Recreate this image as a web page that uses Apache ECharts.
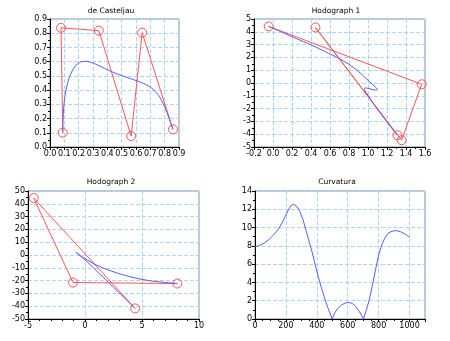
<!DOCTYPE html>
<html>
<head>
<meta charset="utf-8">
<script src="https://cdn.jsdelivr.net/npm/echarts@6/dist/echarts.min.js"></script>
<style>
  html, body { margin: 0; padding: 0; background: #fff; }
  #chart { width: 450px; height: 341px; }
</style>
</head>
<body>
<div id="chart"></div>
<script>
// Bezier control polygon and curve (de Casteljau)
const ctrlX = [0.089, 0.077, 0.341, 0.566, 0.643, 0.858];
const ctrlY = [0.101, 0.838, 0.818, 0.077, 0.804, 0.124];
const curveX = [0.089, 0.091, 0.096, 0.105, 0.118, 0.135, 0.160, 0.190, 0.222, 0.257, 0.295, 0.335, 0.380, 0.425, 0.470, 0.515, 0.560, 0.608, 0.650, 0.690, 0.725, 0.760, 0.790, 0.815, 0.838, 0.858];
const curveY = [0.101, 0.190, 0.280, 0.360, 0.430, 0.490, 0.545, 0.583, 0.600, 0.602, 0.592, 0.575, 0.553, 0.532, 0.513, 0.497, 0.481, 0.465, 0.448, 0.428, 0.400, 0.360, 0.305, 0.245, 0.180, 0.124];

// First hodograph: control polygon and curve
const hod1CtrlX = [-0.045, 1.565, 1.354, 0.447, 1.310];
const hod1CtrlY = [4.42, -0.10, -4.47, 4.34, -4.08];
const hod1CurveX = [-0.045, 0.100, 0.250, 0.400, 0.550, 0.690, 0.800, 0.900, 0.980, 1.050, 1.090, 1.100, 1.080, 1.040, 1.000, 0.970, 0.962, 0.968, 0.990, 1.030, 1.090, 1.160, 1.230, 1.310];
const hod1CurveY = [4.42, 3.95, 3.45, 2.98, 2.45, 1.94, 1.45, 0.90, 0.35, -0.12, -0.40, -0.52, -0.55, -0.50, -0.42, -0.38, -0.45, -0.60, -0.85, -1.30, -1.95, -2.65, -3.35, -4.08];

// Second hodograph: control polygon and curve
const hod2CtrlX = [8.10, -1.05, -4.50, 4.40];
const hod2CtrlY = [-22.3, -21.5, 44.5, -41.7];
const hod2CurveX = [8.10, 7.00, 5.60, 4.40, 3.30, 2.30, 1.50, 0.80, 0.25, -0.25, -0.60, -0.80, -0.82, -0.70, -0.45, -0.05, 0.45, 1.00, 1.60, 2.20, 2.80, 3.40, 3.90, 4.40];
const hod2CurveY = [-22.3, -21.4, -20.0, -17.9, -15.4, -12.5, -9.8, -7.0, -4.2, -1.5, 0.7, 2.2, 2.6, 1.6, -0.3, -3.5, -7.6, -12.3, -17.4, -22.6, -27.8, -33.1, -37.4, -41.7];

// Curvature along the parameter samples
const curvT = [0, 30, 60, 90, 120, 150, 175, 195, 215, 235, 250, 270, 290, 310, 330, 350, 370, 390, 410, 430, 450, 470, 485, 500, 515, 535, 560, 585, 610, 630, 650, 670, 688, 702, 720, 740, 760, 780, 800, 820, 840, 860, 880, 900, 920, 940, 960, 980, 1000];
const curvK = [7.9, 8.05, 8.3, 8.7, 9.2, 9.8, 10.5, 11.2, 11.9, 12.45, 12.55, 12.3, 11.75, 10.9, 9.7, 8.5, 7.3, 5.9, 4.6, 3.4, 2.3, 1.3, 0.65, 0.0, 0.65, 1.15, 1.55, 1.75, 1.8, 1.7, 1.4, 0.95, 0.45, 0.0, 0.95, 2.15, 3.7, 5.4, 7.0, 8.1, 8.85, 9.35, 9.55, 9.65, 9.65, 9.55, 9.4, 9.2, 8.9];

const titles = ['de Casteljau', 'Hodograph 1', 'Hodograph 2', 'Curvatura'];

const zip = (xs, ys) => xs.map((x, i) => [x, ys[i]]);

const FONT = 'DejaVu Sans';
const RED = '#ff5555';
const BLUE = '#5a5aff';
const GRID_LINE = '#a9d6ff';

function valueAxis(idx, min, max, interval, minorSplit, digits, hideMax) {
  return {
    type: 'value',
    gridIndex: idx,
    min: min,
    max: max,
    interval: interval,
    axisLine: { show: true, onZero: false, lineStyle: { color: '#000', width: 1 } },
    axisTick: { show: true, length: 3, lineStyle: { color: '#000' } },
    minorTick: { show: true, splitNumber: minorSplit, length: 2, lineStyle: { color: '#000' } },
    splitLine: { show: true, lineStyle: { color: GRID_LINE, type: [4, 2], width: 1 } },
    axisLabel: {
      color: '#000', fontSize: 8, fontFamily: FONT, margin: 3,
      showMaxLabel: !hideMax,
      formatter: v => v.toFixed(digits)
    }
  };
}

const grids = [
  { left: 50, top: 19, width: 129, height: 128 },
  { left: 254, top: 19, width: 171, height: 128 },
  { left: 28, top: 191, width: 171, height: 128 },
  { left: 255, top: 191, width: 170, height: 128 }
].map(g => Object.assign(g, { show: true, borderColor: '#8a8a8a', borderWidth: 1, backgroundColor: 'transparent' }));

const xAxes = [
  valueAxis(0, 0, 0.9, 0.1, 2, 1),
  valueAxis(1, -0.2, 1.6, 0.2, 2, 1),
  valueAxis(2, -5, 10, 5, 5, 0),
  valueAxis(3, 0, 1100, 200, 4, 0, true)
];
const yAxes = [
  valueAxis(0, 0, 0.9, 0.1, 2, 1),
  valueAxis(1, -5, 5, 1, 2, 0),
  valueAxis(2, -50, 50, 10, 2, 0),
  valueAxis(3, 0, 14, 2, 2, 0)
];

function polygon(idx, xs, ys) {
  return {
    type: 'line', xAxisIndex: idx, yAxisIndex: idx,
    data: zip(xs, ys),
    symbol: 'circle', symbolSize: 9, showAllSymbol: true,
    itemStyle: { color: 'rgba(0,0,0,0)', borderColor: RED, borderWidth: 1 },
    lineStyle: { color: RED, width: 1 },
    animation: false, silent: true, clip: false, z: 2
  };
}
function curve(idx, xs, ys, smooth) {
  return {
    type: 'line', xAxisIndex: idx, yAxisIndex: idx,
    data: zip(xs, ys),
    symbol: 'none', smooth: smooth,
    lineStyle: { color: BLUE, width: 1 },
    animation: false, silent: true, z: 3
  };
}

const titleCenters = [[111, 11], [336, 11], [111, 182], [337, 182]];

const option = {
  backgroundColor: '#fff',
  animation: false,
  grid: grids,
  xAxis: xAxes,
  yAxis: yAxes,
  graphic: titles.map((t, i) => ({
    type: 'text',
    x: titleCenters[i][0],
    y: titleCenters[i][1],
    style: {
      text: t,
      font: '7.5px "' + FONT + '"',
      fill: '#000',
      align: 'center', verticalAlign: 'middle',
      textAlign: 'center', textVerticalAlign: 'middle'
    }
  })),
  series: [
    polygon(0, ctrlX, ctrlY),
    curve(0, curveX, curveY, 0.3),
    polygon(1, hod1CtrlX, hod1CtrlY),
    curve(1, hod1CurveX, hod1CurveY, 0.3),
    polygon(2, hod2CtrlX, hod2CtrlY),
    curve(2, hod2CurveX, hod2CurveY, 0.3),
    curve(3, curvT, curvK, false)
  ]
};

const chart = echarts.init(document.getElementById('chart'), null, { renderer: 'canvas' });
chart.setOption(option);
</script>
</body>
</html>
